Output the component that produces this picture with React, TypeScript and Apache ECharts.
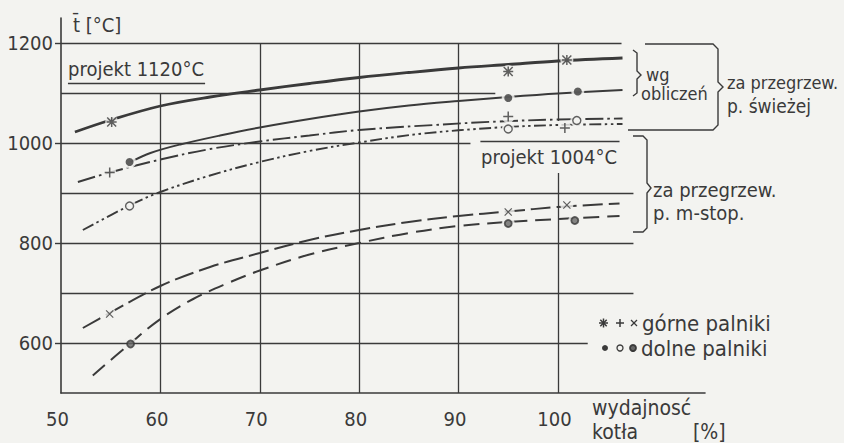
import React, { useEffect, useRef } from "react";
import * as echarts from "echarts";

// ---- data ----
const xTickValues = [50, 60, 70, 80, 90, 100];
const yTickValues = [600, 800, 1000, 1200];
const gridRowValues = [600, 700, 800, 900, 1000, 1100, 1200];
const gridColValues = [60, 70, 80, 90, 100];
const projectFresh = 1120;
const projectReheat = 1004;

// za przegrzew. p. świeżej, wg obliczeń (górne / dolne palniki)
const calcUpperBurners = [[51.4, 1022], [55, 1046], [60, 1074], [65, 1092], [70, 1106], [75, 1119], [80, 1131], [85, 1141], [90, 1150], [95, 1157], [100, 1164], [106.5, 1170]];
const calcLowerBurners = [[57, 962], [59, 980], [62, 997], [66, 1015], [70, 1031], [75, 1048], [80, 1063], [85, 1075], [90, 1084], [95, 1092], [100, 1099], [106.5, 1106]];
// za przegrzew. p. świeżej, measured
const freshUpperBurners = [[51.7, 922], [54.9, 941], [60, 967], [65, 988], [70, 1003], [75, 1015], [80, 1026], [87.5, 1036], [94, 1043], [100, 1047], [106.5, 1049]];
const freshLowerBurners = [[52.2, 826], [57, 876], [60, 902], [65, 935], [70, 962], [75, 984], [80, 1001], [86, 1018], [94, 1031], [100, 1036], [106.5, 1038]];
// za przegrzew. p. m-stop.
const reheatUpperBurners = [[52.2, 630], [54.9, 660], [60, 714], [65, 752], [70, 780], [75, 806], [80, 826], [85, 842], [90, 854], [95, 863], [100, 872], [106.2, 879]];
const reheatLowerBurners = [[53.2, 535], [56.9, 598], [60, 648], [63.3, 688], [66.7, 719], [70, 745], [75, 777], [80, 800], [85, 820], [90, 834], [95, 842], [100, 848], [106.2, 854]];

// measured points
const markStar = [[55.1, 1042], [95, 1143], [100.9, 1166]];
const markDot = [[56.9, 962], [95, 1090], [102, 1103]];
const markPlus = [[54.9, 941], [95, 1053], [100.7, 1030]];
const markOpen = [[56.9, 874], [95, 1028], [101.9, 1045]];
const markCross = [[54.9, 658], [95, 862], [100.9, 876]];
const markRing = [[57, 598], [95, 839], [101.7, 845]];

// ---- styling ----
const INK = "#3a3a3a";
const BG = "#f3f3f0";
const FONT = "'DejaVu Sans Condensed', 'Liberation Sans', sans-serif";
const FS = 19;

const STAR_PATH = "path://M8.5,0h3v20h-3z M0,8.5h20v3h-20z M0,2.12 L2.12,0 L20,17.88 L17.88,20z M17.88,0 L20,2.12 L2.12,20 L0,17.88z";
const PLUS_PATH = "path://M8.5,0h3v20h-3z M0,8.5h20v3h-20z";
const CROSS_PATH = "path://M0,2.12 L2.12,0 L20,17.88 L17.88,20z M17.88,0 L20,2.12 L2.12,20 L0,17.88z";

// grid-line extents (layout)
const rowEnds: Record<number, number> = { 600: 103.0, 700: 107.6, 800: 107.6, 900: 107.6, 1000: 91.2, 1100: 93.7, 1200: 106.4 };

function buildOption() {
  const gridLines: any[] = [];
  gridRowValues.forEach((v) => {
    gridLines.push([{ coord: [50, v] }, { coord: [rowEnds[v], v] }]);
  });
  gridColValues.forEach((v) => {
    if (v === 60) gridLines.push([{ coord: [v, 500] }, { coord: [v, 1100] }]);
    else if (v === 100) {
      gridLines.push([{ coord: [v, 500] }, { coord: [v, 940] }]);
      gridLines.push([{ coord: [v, 1044] }, { coord: [v, 1200] }]);
    } else gridLines.push([{ coord: [v, 500] }, { coord: [v, 1200] }]);
  });
  gridLines.push([{ coord: [50.7, projectFresh] }, { coord: [64.5, projectFresh] }]);
  gridLines.push([{ coord: [92.2, projectReheat] }, { coord: [106.2, projectReheat] }]);

  const curve = (name: string, data: number[][], width: number, type: any) => ({
    name,
    type: "line",
    data,
    smooth: 0.35,
    symbol: "none",
    silent: true,
    z: 2,
    lineStyle: { color: INK, width, type, cap: "butt" },
  });

  const marks = (name: string, data: number[][], symbol: string, size: number, extra: any = {}) => ({
    name,
    type: "scatter",
    data,
    symbol,
    symbolSize: size,
    silent: true,
    z: 5,
    itemStyle: { color: INK, ...extra },
  });

  const allMarks = [...markStar, ...markDot, ...markPlus, ...markOpen, ...markCross, ...markRing];

  const txt = (text: string, x: number, y: number, size = FS) => ({
    type: "text",
    silent: true,
    style: {
      text, x, y, fill: INK,
      font: `${size}px ${FONT}`,
      textAlign: "left", align: "left",
      textVerticalAlign: "middle", verticalAlign: "middle",
    },
  });
  const ln = (x1: number, y1: number, x2: number, y2: number, w = 1.4) => ({
    type: "line", silent: true,
    shape: { x1, y1, x2, y2 },
    style: { stroke: INK, lineWidth: w },
  });
  const pl = (points: number[][], w = 1.4) => ({
    type: "polyline", silent: true,
    shape: { points },
    style: { stroke: INK, lineWidth: w, fill: "none" },
  });

  const graphic = [
    txt("t\u0304 [°C]", 73, 25, 20),
    txt("projekt 1120°C", 68, 69, 20),
    txt("projekt 1004°C", 481, 157, 20),
    txt("wg", 646, 74, 18),
    txt("obliczeń", 641, 93, 18),
    txt("za przegrzew.", 727, 82, 18),
    txt("p. świeżej", 727, 106, 19),
    txt("za przegrzew.", 653, 190, 20),
    txt("p. m-stop.", 653, 213, 20),
    txt("górne palniki", 642, 323, 22),
    txt("dolne palniki", 641, 348, 22),
    txt("wydajnosć", 592, 408, 21),
    txt("kotła", 592, 432, 21),
    txt("[%]", 693, 432, 21),
    // brackets
    pl([[633, 50], [637, 53], [637, 71], [641, 75], [637, 79], [637, 93], [633, 96]]),
    pl([[645, 44], [713, 44], [718, 49], [718, 82], [723, 87], [718, 92], [718, 125], [713, 130], [628, 130]]),
    pl([[633, 136], [643, 136], [647, 140], [647, 183], [651, 188], [647, 193], [647, 228], [643, 232], [633, 232]]),
    // legend symbols row 1
    ln(599, 323, 608, 323, 1.5), ln(603.5, 318.5, 603.5, 327.5, 1.5),
    ln(600.3, 319.8, 606.7, 326.2, 1.5), ln(606.7, 319.8, 600.3, 326.2, 1.5),
    ln(616, 323, 624, 323, 1.5), ln(620, 319, 620, 327, 1.5),
    ln(631, 320, 637, 326, 1.3), ln(637, 320, 631, 326, 1.3),
    // legend symbols row 2
    { type: "circle", silent: true, shape: { cx: 605, cy: 348, r: 3 }, style: { fill: INK } },
    { type: "circle", silent: true, shape: { cx: 620, cy: 348, r: 3 }, style: { fill: "none", stroke: INK, lineWidth: 1.3 } },
    { type: "circle", silent: true, shape: { cx: 633, cy: 348, r: 3 }, style: { fill: "#666", stroke: INK, lineWidth: 1.8 } },
  ];

  return {
    animation: false,
    backgroundColor: BG,
    grid: { left: 61, right: 139, top: 18, bottom: 50 },
    xAxis: {
      type: "value",
      min: 50,
      max: 114.8,
      splitLine: { show: false },
      axisLine: { show: true, lineStyle: { color: INK, width: 1.6 } },
      axisTick: { show: false },
      axisLabel: {
        customValues: xTickValues,
        formatter: (v: number) => String(v),
        color: INK,
        fontFamily: FONT,
        fontSize: 20,
        margin: 16,
        padding: [0, 7, 0, 0],
      },
    },
    yAxis: {
      type: "value",
      min: 500,
      max: 1250,
      splitLine: { show: false },
      axisLine: { show: true, lineStyle: { color: INK, width: 1.6 } },
      axisTick: { show: true, customValues: yTickValues, length: 6, lineStyle: { color: INK, width: 1.4 } },
      axisLabel: {
        customValues: yTickValues,
        formatter: (v: number) => String(v),
        color: INK,
        fontFamily: FONT,
        fontSize: 20,
        margin: 8,
      },
    },
    series: [
      {
        name: "grid",
        type: "line",
        data: [[50, 500]],
        symbol: "none",
        silent: true,
        lineStyle: { width: 0 },
        z: 1,
        markLine: {
          silent: true,
          symbol: ["none", "none"],
          label: { show: false },
          emphasis: { disabled: true },
          lineStyle: { color: INK, width: 1.3, type: "solid" },
          data: gridLines,
        },
      },
      curve("wg obliczeń, górne palniki", calcUpperBurners, 2.8, "solid"),
      curve("wg obliczeń, dolne palniki", calcLowerBurners, 1.9, "solid"),
      curve("p. świeżej, górne palniki", freshUpperBurners, 1.9, [18, 4, 2.5, 4]),
      curve("p. świeżej, dolne palniki", freshLowerBurners, 1.9, [12, 3.5, 2.5, 3.5, 2.5, 3.5]),
      curve("p. m-stop., górne palniki", reheatUpperBurners, 2, [20, 6]),
      curve("p. m-stop., dolne palniki", reheatLowerBurners, 2, [16, 8]),
      {
        name: "gaps",
        type: "scatter",
        data: allMarks,
        symbol: "circle",
        symbolSize: 13,
        silent: true,
        z: 4,
        itemStyle: { color: BG },
      },
      marks("✱", markStar, STAR_PATH, 10),
      marks("●", markDot, "circle", 8),
      marks("+", markPlus, PLUS_PATH, 10),
      marks("○", markOpen, "circle", 8, { color: BG, borderColor: INK, borderWidth: 1.4 }),
      marks("×", markCross, CROSS_PATH, 8),
      marks("◉", markRing, "circle", 7, { color: "#666", borderColor: INK, borderWidth: 1.8 }),
    ],
    graphic,
  };
}

export default function App() {
  const ref = useRef<HTMLDivElement>(null);
  useEffect(() => {
    if (!ref.current) return;
    const chart = echarts.init(ref.current, null, { renderer: "svg" });
    chart.setOption(buildOption() as any);
    return () => chart.dispose();
  }, []);
  return (
    <div
      ref={ref}
      style={{ position: "fixed", left: 0, top: 0, width: 844, height: 443, background: BG }}
    />
  );
}
